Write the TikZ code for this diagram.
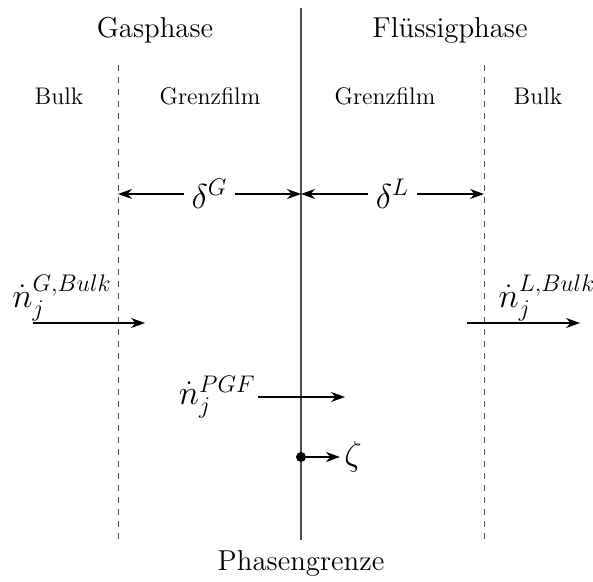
\documentclass[tikz,border=0pt]{standalone}
\usepackage{amsmath}
\usepackage{fontspec}
\usetikzlibrary{arrows.meta,positioning}

\begin{document}
\begin{tikzpicture}[x=0.5pt,y=-0.5pt,
    phase/.style={font=\Large,inner sep=0pt},
    zone/.style={font=\large,inner sep=0pt},
    sym/.style={font=\LARGE,inner sep=1pt},
    arr/.style={-{Stealth[length=7pt,width=5pt]},line width=0.8pt},
    darr/.style={{Stealth[length=7pt,width=5pt]}-{Stealth[length=7pt,width=5pt]},line width=0.8pt},
    iface/.style={draw=black!70,line width=0.6pt},
    film/.style={draw=black!70,line width=0.5pt,dashed},
    dot/.style={circle,fill=black,inner sep=0pt,minimum size=5pt}]
  \useasboundingbox (0,0) rectangle (593,582);
  \coordinate (pgtop) at (301,8);
  \coordinate (pgbot) at (301,540);
  \coordinate (gtop) at (118,65);
  \coordinate (gbot) at (118,540);
  \coordinate (ltop) at (484,65);
  \coordinate (lbot) at (484,540);
  \draw[iface] (pgtop) -- (pgbot);
  \draw[film] (gtop) -- (gbot);
  \draw[film] (ltop) -- (lbot);
  \node[phase] (gas) at (155,30) {Gasphase};
  \node[phase] (liq) at (450,30) {Flüssigphase};
  \node[zone] (gbulk) at (59,96) {Bulk};
  \node[zone] (gfilm) at (210,96) {Grenzfilm};
  \node[zone] (lfilm) at (385,96) {Grenzfilm};
  \node[zone] (lbulk) at (538,96) {Bulk};
  \node[phase] (pg) at (301,563) {Phasengrenze};
  \coordinate (dG) at (118,194);
  \coordinate (dM) at (301,194);
  \coordinate (dL) at (484,194);
  \draw[darr] (dG) -- node[sym,fill=white,inner xsep=4pt] (deltaG) {$\delta^G$} (dM);
  \draw[darr] (dM) -- node[sym,fill=white,inner xsep=4pt] (deltaL) {$\delta^L$} (dL);
  \coordinate (gbs) at (33,323);
  \coordinate (gbe) at (145,323);
  \node[sym] (ngb) at (62,298) {$\dot{n}_j^{G,Bulk}$};
  \draw[arr] (gbs) -- (gbe);
  \coordinate (lbs) at (467,323);
  \coordinate (lbe) at (580,323);
  \node[sym] (nlb) at (547,298) {$\dot{n}_j^{L,Bulk}$};
  \draw[arr] (lbs) -- (lbe);
  \node[sym,anchor=east] (npgf) at (258,397) {$\dot{n}_j^{PGF}$};
  \coordinate (pgfend) at (345,397);
  \draw[arr] (npgf) -- (pgfend);
  \node[dot] (zdot) at (301,457) {};
  \node[sym,inner sep=2pt] (zeta) at (353,457) {$\zeta$};
  \draw[arr] (zdot) -- (zeta);
\end{tikzpicture}
\end{document}
